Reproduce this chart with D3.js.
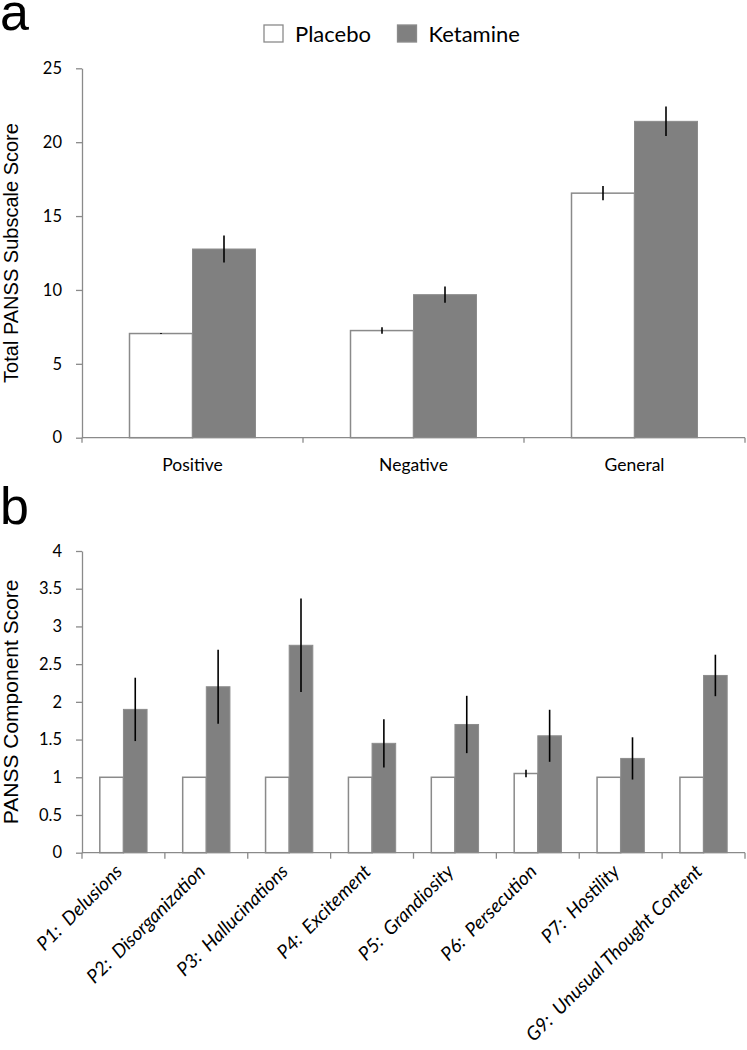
<!DOCTYPE html>
<html><head><meta charset="utf-8">
<script src="https://cdn.jsdelivr.net/npm/d3@7"></script>
<style>body{margin:0;background:#fff}svg{display:block}</style>
</head><body>
<svg id="c" width="747" height="1050"></svg>
<script>
const series = ["Placebo", "Ketamine"];
// Panel a
const subscales = ["Positive", "Negative", "General"];
const placeboA = [7.05, 7.25, 16.55];
const placeboAErr = [0.03, 0.22, 0.48];
const ketamineA = [12.77, 9.68, 21.41];
const ketamineAErr = [0.92, 0.55, 1.0];
const ticksA = [0, 5, 10, 15, 20, 25];
// Panel b
const components = ["P1:  Delusions", "P2:  Disorganization", "P3:  Hallucinations", "P4:  Excitement",
  "P5:  Grandiosity", "P6:  Persecution", "P7:  Hostility", "G9:  Unusual Thought Content"];
const placeboB = [1, 1, 1, 1, 1, 1.05, 1, 1];
const placeboBErr = [0, 0, 0, 0, 0, 0.05, 0, 0];
const ketamineB = [1.9, 2.2, 2.75, 1.45, 1.7, 1.55, 1.25, 2.35];
const ketamineBErr = [0.42, 0.49, 0.62, 0.32, 0.38, 0.345, 0.28, 0.275];
const ticksB = [0, 0.5, 1, 1.5, 2, 2.5, 3, 3.5, 4];

const svg = d3.select("#c");
const axisColor = "#8a8a8a";
const fillK = "#808080";
const font = "Lato, 'Open Sans', sans-serif";
const titleFont = "'Liberation Sans', Arial, sans-serif";

function panel(opt) {
  const {cats, pl, plE, ke, keE, ticks, domainMax, x0, x1, yTop, yBot, title, titleSize, letter, letterY, rotate} = opt;
  const g = svg.append("g");
  const x = d3.scaleBand().domain(cats).range([x0, x1]).paddingInner(0).paddingOuter(0);
  const xs = d3.scaleBand().domain(series).range([0, x.bandwidth()]).paddingInner(0).paddingOuter(0.754);
  const y = d3.scaleLinear().domain([0, domainMax]).range([yBot, yTop]);
  const rows = cats.map((c, i) => ({c, vals: [pl[i], ke[i]], errs: [plE[i], keE[i]]}));

  // bars
  const grp = g.selectAll("g.cat").data(rows).join("g").attr("transform", d => `translate(${x(d.c)},0)`);
  grp.selectAll("rect").data(d => series.map((s, j) => ({s, v: d.vals[j], e: d.errs[j]}))).join("rect")
    .attr("x", d => xs(d.s)).attr("width", xs.bandwidth())
    .attr("y", d => y(d.v)).attr("height", d => y(0) - y(d.v))
    .attr("fill", d => d.s === "Placebo" ? "#fff" : fillK)
    .attr("stroke", d => d.s === "Placebo" ? axisColor : "#8c8c8c")
    .attr("stroke-width", d => d.s === "Placebo" ? 1.5 : 1);
  grp.selectAll("line.err").data(d => series.map((s, j) => ({s, v: d.vals[j], e: d.errs[j]})).filter(d => d.e > 0)).join("line")
    .attr("class", "err")
    .attr("x1", d => xs(d.s) + xs.bandwidth() / 2).attr("x2", d => xs(d.s) + xs.bandwidth() / 2)
    .attr("y1", d => y(d.v + d.e)).attr("y2", d => y(d.v - d.e))
    .attr("stroke", "#000").attr("stroke-width", 1.6);

  // y axis
  const ya = g.append("g").attr("transform", `translate(${x0},0)`)
    .call(d3.axisLeft(y).tickValues(ticks).tickSize(6).tickSizeOuter(0).tickPadding(14).tickFormat(d3.format("")));
  ya.select(".domain").attr("stroke", axisColor).attr("stroke-width", 1.3);
  ya.selectAll(".tick line").attr("stroke", axisColor).attr("stroke-width", 1.3);
  ya.selectAll(".tick text").attr("font-family", font).attr("font-size", 16.5).attr("fill", "#000");

  // x axis
  g.append("line").attr("x1", x0).attr("x2", x1).attr("y1", y(0)).attr("y2", y(0))
    .attr("stroke", axisColor).attr("stroke-width", 1.3);
  const bounds = cats.map(c => x(c)).concat([x.range()[1]]);
  g.selectAll("line.xt").data(bounds).join("line").attr("class", "xt")
    .attr("x1", d => d).attr("x2", d => d).attr("y1", y(0)).attr("y2", y(0) + (rotate ? 6 : 5))
    .attr("stroke", axisColor).attr("stroke-width", 1.3);

  if (!rotate) {
    g.selectAll("text.cat").data(cats).join("text").attr("class", "cat")
      .attr("x", d => x(d) + x.bandwidth() / 2).attr("y", y(0) + 33.5)
      .attr("text-anchor", "middle").attr("font-family", font).attr("font-size", 17.5).attr("fill", "#000")
      .text(d => d);
  } else {
    g.selectAll("text.cat").data(cats).join("text").attr("class", "cat")
      .attr("transform", d => `translate(${x(d) + x.bandwidth() / 2},${y(0) + 20}) rotate(-45)`)
      .attr("text-anchor", "end").attr("font-family", font).attr("font-style", "italic")
      .attr("font-size", 19).attr("fill", "#000").style("white-space", "pre")
      .text(d => d);
  }

  // y title
  g.append("text").attr("transform", `translate(18,${(yTop + yBot) / 2}) rotate(-90)`)
    .attr("text-anchor", "middle").attr("font-family", titleFont).attr("font-size", titleSize).attr("fill", "#000")
    .text(title);
  // panel letter
  g.append("text").attr("x", 0).attr("y", letterY).attr("font-family", titleFont)
    .attr("font-size", 52).attr("fill", "#000").text(letter);
}

panel({cats: subscales, pl: placeboA, plE: placeboAErr, ke: ketamineA, keE: ketamineAErr, ticks: ticksA, domainMax: 25,
  x0: 82, x1: 745, yTop: 68.3, yBot: 437.7, title: "Total PANSS Subscale Score", titleSize: 20, letter: "a", letterY: 30, rotate: false});
panel({cats: components, pl: placeboB, plE: placeboBErr, ke: ketamineB, keE: ketamineBErr, ticks: ticksB, domainMax: 4,
  x0: 82, x1: 745, yTop: 551, yBot: 852.7, title: "PANSS Component Score", titleSize: 21, letter: "b", letterY: 524, rotate: true});

// legend
const leg = svg.append("g");
const legX = [264, 397.5];
leg.selectAll("rect").data(series).join("rect")
  .attr("x", (d, i) => legX[i]).attr("y", 25).attr("width", 19).attr("height", 17)
  .attr("fill", d => d === "Placebo" ? "#fff" : fillK)
  .attr("stroke", axisColor).attr("stroke-width", 1.3);
leg.selectAll("text").data(series).join("text")
  .attr("x", (d, i) => legX[i] + 31).attr("y", 41.5)
  .attr("font-family", font).attr("font-size", 22).attr("fill", "#000").text(d => d);
</script>
</body></html>
